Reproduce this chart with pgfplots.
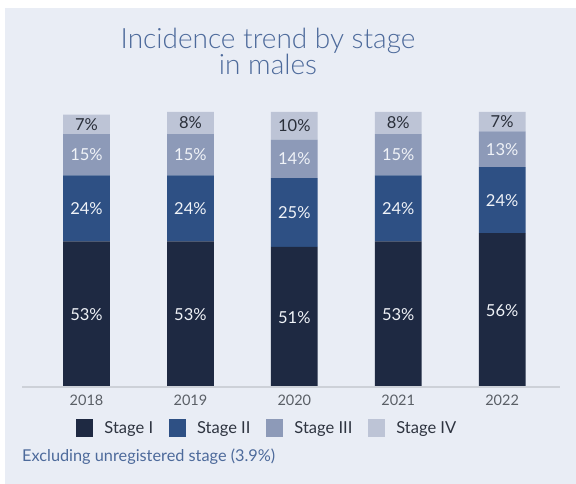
\documentclass[border=0pt]{standalone}
\usepackage{pgfplots}
\pgfplotsset{compat=1.18}
\usepackage{pgfplotstable}
\usepackage{fontspec}
\setmainfont{Lato}
\newfontfamily\titlefont{Lato}[UprightFont={* Light}]
\definecolor{bg}{HTML}{E9EDF5}
\definecolor{sone}{HTML}{1E2942}
\definecolor{stwo}{HTML}{2E5084}
\definecolor{sthree}{HTML}{8D9AB8}
\definecolor{sfour}{HTML}{BDC4D6}
\definecolor{titleblue}{HTML}{4D6A9B}
\definecolor{tickgray}{HTML}{5A5F66}
\definecolor{legtext}{HTML}{2E3440}
\definecolor{labwhite}{HTML}{F0F3F8}
\definecolor{labdark}{HTML}{2A2F3A}
\definecolor{basegray}{HTML}{CDD1D8}
\pgfplotstableread{
x s1 s2 s3 s4
0 53 24 15 7
1 53 24 15 8
2 51 25 14 10
3 53 24 15 8
4 56 24 13 7
}\data
\begin{document}
\begin{tikzpicture}[x=1pt,y=1pt]
\useasboundingbox (0,0) rectangle (576,484);
\fill[white] (0,0) rectangle (576,484);
\fill[bg] (5,0) rectangle (576,476);
\node[anchor=base, inner sep=0pt, align=center, font=\titlefont\fontsize{28}{25}\selectfont, text=titleblue] at (268,409) {Incidence trend by stage\\in males};
\node[anchor=base west, inner sep=0pt, font=\fontsize{16.3}{18}\selectfont, text=titleblue] at (22,22.3) {Excluding unregistered stage (3.9\%)};
\begin{axis}[
  at={(22pt,96.5pt)}, anchor=south west,
  scale only axis, width=538pt, height=275.5pt,
  xmin=-0.621, xmax=4.557, ymin=0, ymax=100,
  ybar stacked, bar width=0.45,
  axis line style={draw=none}, tick style={draw=none},
  ytick=\empty,
  xtick={0,1,2,3,4}, xticklabels={2018,2019,2020,2021,2022},
  xticklabel style={font=\fontsize{14.5}{16}\selectfont, text=tickgray, anchor=base, yshift=-18pt},
  legend columns=4,
  legend style={at={(0.456,-0.147)}, anchor=center, draw=none, fill=none,
    font=\fontsize{16.5}{18}\selectfont, text=legtext,
    /tikz/every even column/.append style={column sep=14pt},
    /tikz/every odd column/.append style={column sep=9pt}},
  legend image code/.code={\fill[#1] (0pt,-9pt) rectangle (17pt,8.5pt);},
  clip=false,
]
\draw[basegray, line width=2pt] (axis cs:-0.621,0) -- (axis cs:4.557,0);
\addplot[fill=sone, draw=none] table[x=x,y=s1]{\data};
\addplot[fill=stwo, draw=none] table[x=x,y=s2]{\data};
\addplot[fill=sthree, draw=none] table[x=x,y=s3]{\data};
\addplot[fill=sfour, draw=none] table[x=x,y=s4]{\data};
\legend{Stage I, Stage II, Stage III, Stage IV}
\end{axis}
\begin{axis}[
  at={(22pt,96.5pt)}, anchor=south west,
  scale only axis, width=538pt, height=275.5pt,
  xmin=-0.621, xmax=4.557, ymin=0, ymax=100,
  hide axis, clip=false,
  nodes near coords={\pgfplotspointmeta\%},
  point meta=explicit symbolic,
]
\addplot[only marks, mark=none, every node near coord/.style={anchor=center, text=labwhite, font=\fontsize{16.5}{18}\selectfont}] table[x=x, y expr=\thisrow{s1}/2, meta=s1]{\data};
\addplot[only marks, mark=none, every node near coord/.style={anchor=center, text=labwhite, font=\fontsize{16.5}{18}\selectfont}] table[x=x, y expr=\thisrow{s1}+\thisrow{s2}/2, meta=s2]{\data};
\addplot[only marks, mark=none, every node near coord/.style={anchor=center, text=labwhite, font=\fontsize{16.5}{18}\selectfont}] table[x=x, y expr=\thisrow{s1}+\thisrow{s2}+\thisrow{s3}/2, meta=s3]{\data};
\addplot[only marks, mark=none, every node near coord/.style={anchor=center, text=labdark, font=\fontsize{16.5}{18}\selectfont}] table[x=x, y expr=\thisrow{s1}+\thisrow{s2}+\thisrow{s3}+\thisrow{s4}/2, meta=s4]{\data};
\end{axis}
\end{tikzpicture}
\end{document}
